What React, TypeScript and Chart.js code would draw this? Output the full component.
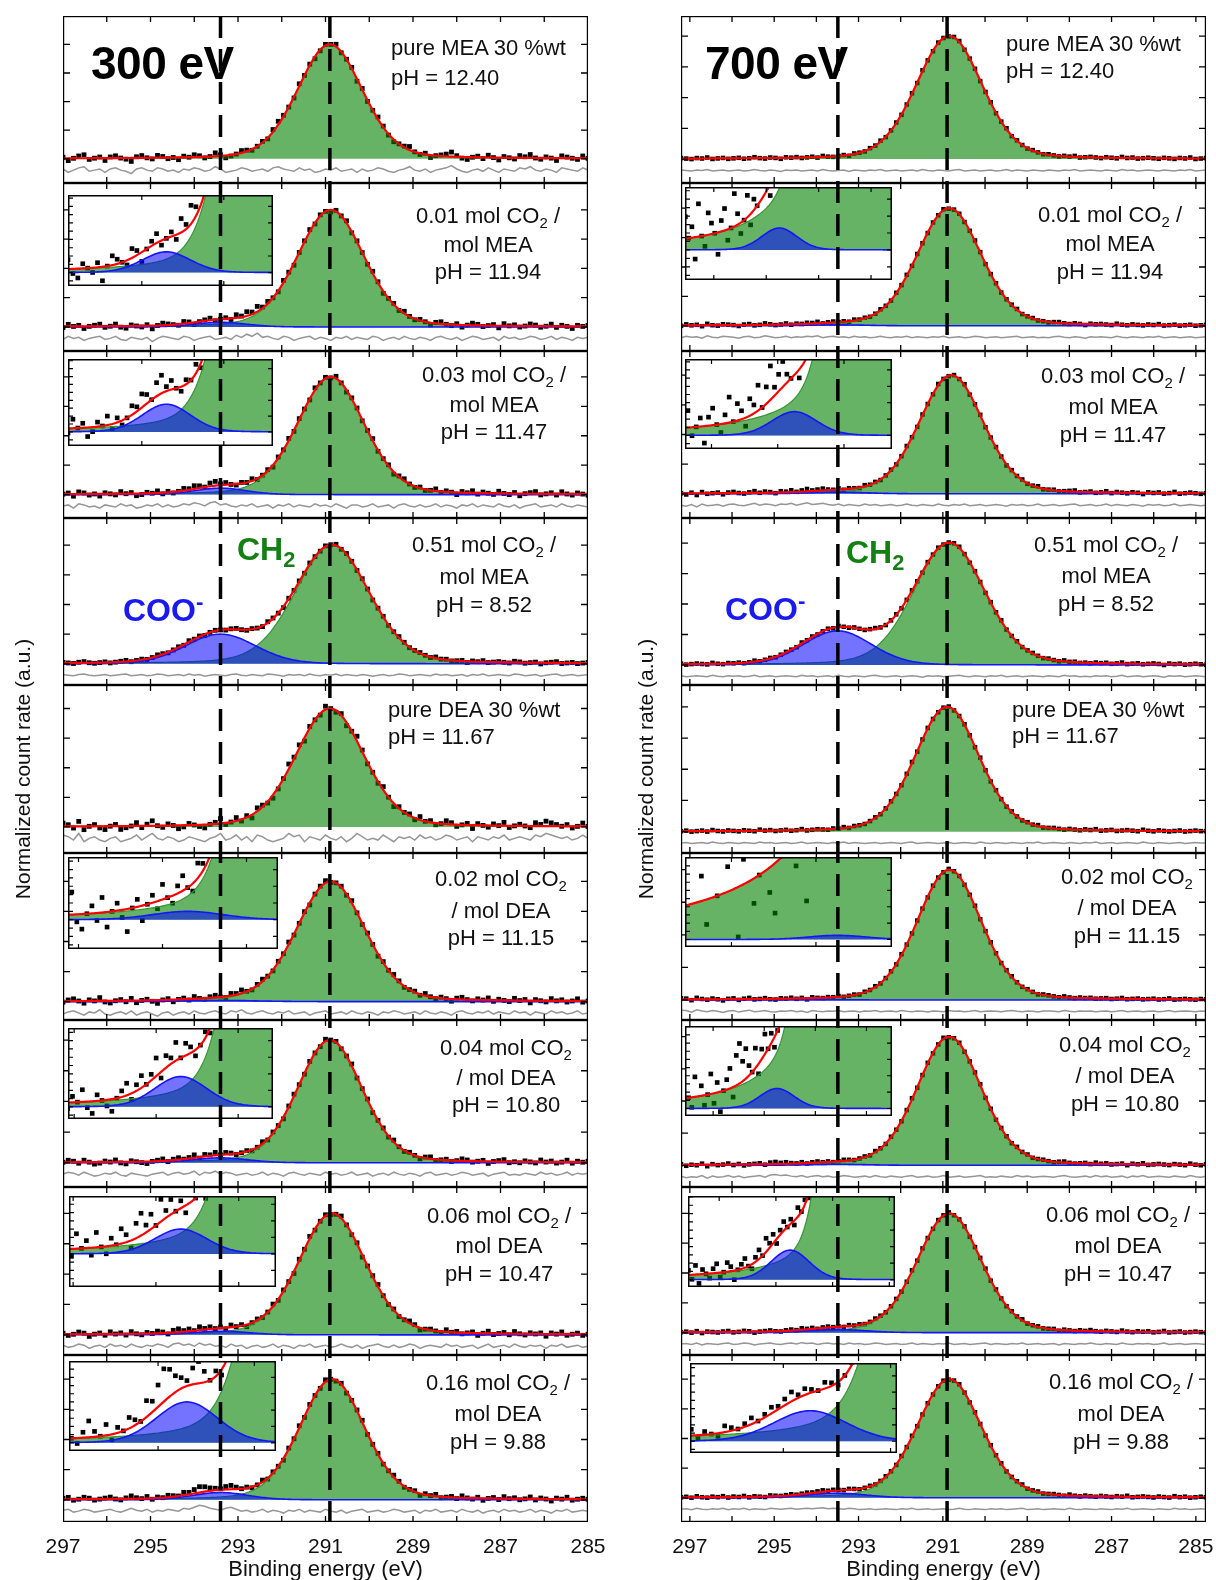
import React, { useEffect, useRef } from "react";
import { Chart, registerables } from "chart.js";

Chart.register(...registerables);

const FONT = "'Liberation Sans', Arial, Helvetica, sans-serif";

/* ---------------- measurement grid, axes, labels ---------------- */
const energyCount = 101;
const curveCount = 301;
const energyRange300 = [285, 297];
const energyRange700 = [284.76, 297.21];
const xTickLabels = [297, 295, 293, 291, 289, 287, 285];
const yTickValues = [0, 0.25, 0.5, 0.75, 1, 1.25];
const guideLines300 = [293.4, 290.9];
const guideLines700 = [293.49, 290.9];
const xAxisTitle = "Binding energy (eV)";
const yAxisTitle = "Normalized count rate (a.u.)";
const photonEnergy = ["300 eV", "700 eV"];
const ch2Label = "CH_2";
const cooLabel = "COO^-";
const ch2Eta = 0.2;
const cooEta = 0.1;

/* ---------------- 300 eV column ---------------- */
const sample300 = [
  ["pure MEA 30 %wt", "pH = 12.40"],
  ["0.01 mol CO_2 /", "mol MEA", "pH = 11.94"],
  ["0.03 mol CO_2 /", "mol MEA", "pH = 11.47"],
  ["0.51 mol CO_2 /", "mol MEA", "pH = 8.52"],
  ["pure DEA 30 %wt", "pH = 11.67"],
  ["0.02 mol CO_2", "/ mol DEA", "pH = 11.15"],
  ["0.04 mol CO_2", "/ mol DEA", "pH = 10.80"],
  ["0.06 mol CO_2 /", "mol DEA", "pH = 10.47"],
  ["0.16 mol CO_2 /", "mol DEA", "pH = 9.88"],
];
const ch2Center300 = [290.9, 290.88, 290.88, 290.85, 290.9, 290.88, 290.9, 290.85, 290.85];
const ch2Fwhm300 = [1.75, 1.8, 1.8, 2.0, 1.85, 1.85, 1.75, 1.8, 1.75];
const cooCenter300 = [293.4, 293.4, 293.4, 293.4, 293.4, 293.4, 293.4, 293.4, 293.4];
const cooAmp300 = [0, 0.04, 0.055, 0.25, 0, 0.01, 0.04, 0.03, 0.06];
const cooFwhm300 = [1.5, 1.4, 1.4, 1.9, 1.5, 2.0, 1.5, 1.5, 1.5];
const noiseUnit300 = [0.01, 0.009, 0.009, 0.005, 0.014, 0.009, 0.008, 0.009, 0.008];

const noise300MEApure = [1,-2,0,2,3,-1,0,1,-2,1, 2,0,-1,-3,1,2,0,-1,2,1, -1,0,-2,1,0,2,1,-1,0,3, 1,-2,-1,0,2,1,-1,0,1,-1, 2,3,1,0,-1,2,0,1,-2,-1, 1,0,2,-1,0,1,-2,1,-1,0, 2,1,-1,-2,0,1,3,0,-1,1, -2,0,1,2,4,1,-1,-2,0,1, -1,2,0,-2,1,0,-1,2,1,3, 0,-1,1,0,-2,2,1,0,-1,2, 0];
const noise300MEA001 = [-1,2,0,1,-2,0,1,2,-1,0, 2,-1,-2,1,0,-1,1,-3,0,2, 1,0,-1,2,1,-2,0,1,2,-1, 0,1,-1,3,1,4,2,5,1,2, 0,-1,2,1,-2,0,1,2,-1,1, 0,-2,1,0,2,-1,1,0,-1,2, 1,-2,0,1,-1,2,0,-1,1,0, -2,1,2,0,-1,1,-2,0,2,1, -1,0,1,-2,2,0,1,-1,0,2, 1,-1,0,2,-1,1,0,-2,1,0, 1];
const noise300MEA003 = [0,1,-2,2,1,-1,0,-2,1,0, -1,2,0,1,-2,-1,1,0,2,-1, 1,-1,0,2,1,3,2,0,3,4, 1,2,0,-1,1,0,2,-1,0,1, -2,1,0,2,-1,1,0,-1,2,0, 1,-1,2,0,-2,1,1,-1,0,2, -1,0,1,-2,1,2,0,-1,1,-1, 0,2,-1,1,0,-2,1,0,2,-1, 1,0,-1,2,0,-1,1,-2,0,1, 2,-1,0,1,-1,2,0,-1,1,0, -1];
const noise300MEA051 = [1,0,-1,1,2,0,-1,0,1,-1, 0,1,2,-1,0,1,-1,0,2,1, -1,0,1,-1,2,0,1,-2,0,1, 0,-1,1,2,0,-1,1,0,-1,2, 1,0,-2,1,0,1,-1,2,0,-1, 1,0,2,-1,1,0,-1,1,0,-2, 0,1,-1,0,2,1,-1,0,1,0, -1,2,0,1,-1,0,1,-2,1,0, 2,-1,0,1,0,-1,2,1,-1,0, 1,-2,0,1,2,-1,0,1,-1,0, 1];
const noise300DEApure = [2,1,-1,3,-2,0,1,-1,-2,0, 1,-2,-1,0,2,-1,1,3,0,-1, 1,0,-2,-1,1,0,-1,-2,0,1, 3,-1,0,2,-1,1,-2,2,1,-1, -2,-1,0,3,1,2,-2,1,0,-1, 2,0,-1,1,-2,0,3,1,-1,0, -1,2,0,-2,1,0,1,-1,2,0, 1,-1,0,2,1,-1,0,1,-2,1, 0,-1,1,0,2,-1,0,1,0,-1, 2,1,3,2,1,0,1,-1,0,2, 0];
const noise300DEA002 = [-1,1,2,0,-2,1,0,3,-1,-2, 0,1,-1,2,-2,0,1,-1,-3,0, 1,-2,0,1,-1,2,0,-1,1,2, 0,-1,2,1,3,0,-1,1,2,0, -1,1,0,2,-1,0,1,-2,0,1, 2,-1,0,1,-1,2,0,-1,1,0, -2,1,0,2,1,-1,0,1,-1,2, 0,-1,1,0,-2,1,2,0,-1,1, 0,2,-1,1,0,-1,2,0,1,-2, 1,0,-1,2,0,1,-1,0,2,-1, 0];
const noise300DEA004 = [0,2,1,-1,2,0,-2,-1,1,0, 2,-1,-2,1,0,-1,-2,0,1,2, -1,1,2,0,1,3,-1,2,1,3, 0,2,1,-1,0,1,-1,0,2,-1, 1,0,-2,1,2,0,-1,1,0,-1, 2,0,1,-1,0,2,-1,0,1,-2, 0,1,-1,2,0,-1,1,0,-2,1, 2,-1,0,1,-1,0,2,1,-1,0, 1,-2,0,1,2,-1,0,-1,1,0, -1,2,0,1,-1,0,2,-1,1,0, 1];
const noise300DEA006 = [1,-1,0,2,1,-2,0,1,-1,2, 0,1,-1,2,0,-1,1,0,2,1, -1,2,3,1,2,0,3,1,2,0, 1,-1,2,0,1,-2,0,1,-1,0, 2,-1,1,0,-2,1,0,2,-1,0, 1,-1,0,2,0,-1,1,-2,0,1, 2,0,-1,1,-1,0,2,1,-2,0, 1,0,-1,2,0,1,-1,0,1,-2, 0,2,-1,0,1,-1,2,0,-1,1, 0,1,-2,1,0,2,-1,0,1,-1, 0];
const noise300DEA016 = [1,2,-1,0,2,1,-1,0,1,2, 0,-1,1,3,1,0,2,-1,1,0, 2,1,0,3,2,4,6,5,3,2, 1,3,4,2,0,1,-1,0,2,-1, 1,0,-2,1,0,2,-1,1,0,-1, 2,0,-1,1,-2,0,1,2,-1,0, 1,-1,0,2,1,-1,0,1,-2,1, 0,2,-1,0,1,-1,2,0,-1,1, -2,0,1,-1,2,0,1,-1,0,2, -1,1,0,-2,1,0,2,-1,0,1, 0];

const insetPanels300 = [1, 2, 5, 6, 7, 8];
const insetEnergyRange300 = [[295.8, 290.8], [295.8, 290.8], [296.25, 291.25], [296.15, 291.15], [296.1, 291.1], [295.85, 291.55]];
const insetIntensityRange300 = [[-0.026, 0.15], [-0.028, 0.145], [-0.035, 0.075], [-0.016, 0.104], [-0.04, 0.07], [-0.012, 0.12]];

/* ---------------- 700 eV column ---------------- */
const sample700 = sample300;
const ch2Center700 = [290.85, 290.85, 290.8, 290.85, 290.9, 290.85, 290.85, 290.85, 290.85];
const ch2Fwhm700 = [1.85, 1.8, 1.8, 2.0, 1.8, 1.8, 1.8, 1.8, 1.8];
const cooCenter700 = [293.5, 293.5, 293.5, 293.5, 293.5, 293.5, 293.5, 293.5, 293.5];
const cooAmp700 = [0, 0.008, 0.014, 0.28, 0, 0.0005, 0.008, 0.026, 0.039];
const cooFwhm700 = [1.5, 1.6, 1.6, 1.9, 1.5, 1.6, 1.6, 1.6, 1.6];
const noiseUnit700 = [0.004, 0.004, 0.005, 0.004, 0.004, 0.003, 0.004, 0.004, 0.004];

const noise700MEApure = [1,0,-1,1,0,2,-1,0,1,-1, 0,1,-1,0,2,0,-1,1,0,-2, 1,0,1,-1,0,1,-1,2,0,-1, 0,1,-2,1,0,-1,1,0,2,-1, 0,1,-1,0,1,-1,2,0,-1,1, 0,-1,1,2,-1,0,1,-1,0,1, -1,0,2,-1,1,0,-1,1,0,-1, 1,0,-1,1,0,2,-1,0,1,0, -1,1,0,-1,2,0,1,-1,0,1, 0,-1,1,0,-1,1,0,2,-1,0, 1];
const noise700MEA001 = [-1,2,0,1,-2,3,0,-1,2,1, 0,-2,1,2,-1,0,3,1,-1,0, 2,-1,1,0,2,1,3,-1,1,2, 0,1,-1,2,0,1,-1,0,2,0, -1,1,0,2,-1,1,0,-1,1,0, 2,-1,0,1,-1,0,2,1,-1,0, 1,-1,0,1,2,-1,0,1,-1,0, -1,1,2,0,-1,1,0,-2,1,0, 1,0,-1,2,0,-1,1,0,-1,1, 0,2,-1,0,1,-1,0,1,-1,0, 1];
const noise700MEA003 = [0,-2,1,-3,2,-1,0,1,-2,1, 2,0,-1,1,3,0,2,1,-1,2, 1,3,0,2,4,1,2,3,1,0, 2,-1,1,0,-1,2,0,1,-1,0, 1,-1,0,2,0,-1,1,0,-1,2, 0,-1,1,0,2,-1,0,1,-1,0, 1,0,-2,1,0,1,-1,0,2,-1, 0,1,-1,0,1,2,-1,0,1,-1, 0,2,-1,1,0,-1,1,0,-2,1, 0,1,-1,0,2,-1,0,1,0,-1, 0];
const noise700MEA051 = [1,-1,0,1,0,-1,2,0,-1,1, 0,1,-1,0,2,-1,0,1,-1,0, 1,0,-1,2,0,1,-1,0,1,-1, 2,0,-1,1,0,-1,1,2,0,-1, 0,1,-1,0,1,0,-2,1,0,1, -1,0,1,2,0,-1,1,0,-1,1, 0,2,-1,0,1,-1,0,1,0,-1, 1,0,-1,2,0,1,-1,0,-1,1, 0,1,-1,0,2,-1,0,1,-1,0, 1,0,-2,1,0,1,-1,0,1,0, -1];
const noise700DEApure = [0,1,-1,0,1,-1,2,0,-1,1, 0,-1,1,0,-1,2,0,1,-1,0, 1,-1,0,2,-1,0,1,0,-1,1, 0,2,-1,1,0,-1,0,1,-1,0, 1,0,-1,1,2,-1,0,1,0,-1, 0,1,-1,0,1,0,-1,2,0,-1, 1,0,-1,1,0,-1,1,0,2,-1, 0,1,0,-1,1,0,-1,1,0,2, -1,0,1,-1,0,1,0,-1,2,0, -1,1,0,-1,0,1,-1,0,1,0, 0];
const noise700DEA002 = [3,2,-2,4,1,-1,2,0,-3,1, 2,-2,1,3,-1,0,2,-1,-2,1, 0,2,-1,1,-3,2,0,-1,1,0, 2,-1,0,1,-2,1,0,2,-1,0, 1,-1,2,0,-1,1,0,-2,1,0, -1,2,0,1,-1,0,2,-1,0,1, 0,-1,1,2,0,-1,1,0,-2,1, 1,0,-1,2,0,-1,1,0,1,-1, 0,1,-1,0,2,-1,0,1,-1,0, 1,-1,0,2,-1,0,1,0,-1,1, 0];
const noise700DEA004 = [1,-2,0,-1,2,-3,1,-1,0,2, -1,1,-2,0,1,2,-1,3,4,2, 3,1,0,2,-1,1,2,0,1,-1, 0,2,1,-1,0,1,-1,2,0,-1, 1,0,-1,1,2,-1,0,1,-1,0, 2,-1,0,1,-1,0,1,2,-1,0, -1,1,0,-1,2,0,1,-1,0,1, 0,-1,1,2,0,-1,0,1,-1,2, 0,1,-1,0,1,-2,1,0,2,-1, 0,1,0,-1,1,0,-1,2,0,-1, 1];
const noise700DEA006 = [0,1,-1,2,-2,1,0,-1,1,2, -1,0,2,1,-2,0,1,2,0,-1, 1,2,0,3,1,2,-1,1,2,0, 1,-1,2,0,1,-1,0,2,1,-1, 0,1,-1,0,2,-1,1,0,-1,1, 0,2,-1,0,1,-1,0,1,2,-1, 1,0,-1,1,0,2,-1,0,1,-1, 0,1,-2,1,0,-1,1,0,2,0, -1,1,0,-1,2,0,-1,1,0,1, -1,0,2,-1,0,1,-1,0,1,0, -1];
const noise700DEA016 = [0,1,-1,2,0,-1,1,0,2,-1, 1,0,2,-1,1,0,-1,2,1,0, 1,2,0,1,2,1,2,3,1,2, 1,0,2,1,-1,0,1,-1,0,1, 0,-1,1,0,2,-1,0,1,-1,0, 1,-1,0,2,0,-1,1,0,-1,1, 0,1,-1,0,1,2,-1,0,1,-1, 0,1,0,-1,2,0,-1,1,0,-1, 1,0,-1,1,0,2,-1,0,1,0, -1,1,0,-1,2,0,1,-1,0,1, 0];

const insetPanels700 = [1, 2, 5, 6, 7, 8];
const insetEnergyRange700 = [[297.1, 289.2], [296.8, 290.55], [297.1, 292.2], [297.1, 289.0], [297.1, 289.8], [295.74, 291.88]];
const insetIntensityRange700 = [[-0.011, 0.023], [-0.008, 0.045], [-0.0009, 0.0099], [-0.003, 0.033], [-0.0064, 0.0736], [-0.015, 0.1]];

/* ---------------- layout (page pixels) ---------------- */
const plotTop = 16;
const plotBottom = 1522;
const plotW = 525;
const nPanels = 9;
const xAxisH = 61;
const overlayRightPad = 24;
const residualGap = 0.068;
const panelTops = Array.from({ length: nPanels + 1 }, (_, i) => Math.round(plotTop + (i * (plotBottom - plotTop)) / nPanels));

const layout300 = {
  x0: 63,
  yTitleW: 51,
  baseFrac: [0.855, 0.857, 0.86, 0.873, 0.845, 0.89, 0.855, 0.88, 0.867],
  peakFrac: [0.17, 0.16, 0.155, 0.163, 0.14, 0.17, 0.12, 0.157, 0.145],
  labelX: [391, 488, 494, 484, 388, 501, 506, 499, 498],
  labelY: [[48, 77.5], [216, 245, 272], [375, 405, 432], [545, 577, 605], [710, 737], [879, 911, 938], [1048, 1078, 1105], [1216, 1246, 1274], [1383, 1414, 1442]],
  insetBox: [[68, 195, 205, 91], [68, 359, 205, 87], [68, 857, 210, 92], [68, 1028, 205, 91], [69, 1196, 207, 91], [69, 1361, 207, 90]],
  titlePos: [91, 63],
  ch2Pos: [237, 549],
  cooPos: [123, 610],
};
const layout700 = {
  x0: 681,
  yTitleW: 46,
  baseFrac: [0.857, 0.85, 0.855, 0.88, 0.873, 0.88, 0.87, 0.867, 0.855],
  peakFrac: [0.12, 0.15, 0.145, 0.15, 0.13, 0.1, 0.1, 0.157, 0.145],
  labelX: [1006, 1110, 1113, 1106, 1012, 1127, 1125, 1118, 1121],
  labelY: [[44, 71], [215, 244, 272], [376, 407, 435], [545, 576, 604], [710, 736], [877, 908, 936], [1045, 1076, 1104], [1215, 1246, 1274], [1382, 1414, 1442]],
  insetBox: [[685, 187, 207, 93], [685, 359, 207, 90], [685, 857, 207, 90], [685, 1026, 207, 90], [688, 1196, 207, 91], [690, 1363, 207, 90]],
  titlePos: [705, 63],
  ch2Pos: [846, 552],
  cooPos: [725, 609],
};
const labelAlign = ["left", "center", "center", "center", "left", "center", "center", "center", "center"];

const columns = [
  {
    key: "c300", title: photonEnergy[0], layout: layout300, labels: sample300,
    eRange: energyRange300, guides: guideLines300,
    ch2Center: ch2Center300, ch2Fwhm: ch2Fwhm300, cooCenter: cooCenter300, cooAmp: cooAmp300, cooFwhm: cooFwhm300,
    noiseUnit: noiseUnit300,
    noise: [noise300MEApure, noise300MEA001, noise300MEA003, noise300MEA051, noise300DEApure, noise300DEA002, noise300DEA004, noise300DEA006, noise300DEA016],
    insetPanels: insetPanels300, insetE: insetEnergyRange300, insetI: insetIntensityRange300,
  },
  {
    key: "c700", title: photonEnergy[1], layout: layout700, labels: sample700,
    eRange: energyRange700, guides: guideLines700,
    ch2Center: ch2Center700, ch2Fwhm: ch2Fwhm700, cooCenter: cooCenter700, cooAmp: cooAmp700, cooFwhm: cooFwhm700,
    noiseUnit: noiseUnit700,
    noise: [noise700MEApure, noise700MEA001, noise700MEA003, noise700MEA051, noise700DEApure, noise700DEA002, noise700DEA004, noise700DEA006, noise700DEA016],
    insetPanels: insetPanels700, insetE: insetEnergyRange700, insetI: insetIntensityRange700,
  },
];

/* ---------------- model ---------------- */
function pseudoVoigt(e: number, c: number, f: number, eta: number) {
  const t = (e - c) / f;
  return (1 - eta) * Math.exp(-4 * Math.LN2 * t * t) + eta / (1 + 4 * t * t);
}
function grid(lo: number, hi: number, n: number) {
  return Array.from({ length: n }, (_, i) => +(hi - (i * (hi - lo)) / (n - 1)).toFixed(4));
}

function buildSpectrum(col: any, i: number) {
  const L = col.layout;
  const [lo, hi] = col.eRange;
  const dataE = grid(lo, hi, energyCount);
  const curveE = grid(lo, hi, curveCount);
  const ch2 = (e: number) => pseudoVoigt(e, col.ch2Center[i], col.ch2Fwhm[i], ch2Eta);
  const coo = (e: number) => col.cooAmp[i] * pseudoVoigt(e, col.cooCenter[i], col.cooFwhm[i], cooEta);
  const fit = (e: number) => ch2(e) + coo(e);
  const noise = col.noise[i];
  const unit = col.noiseUnit[i];
  const gap = residualGap / (L.baseFrac[i] - L.peakFrac[i]);
  return {
    green: curveE.map((e) => ({ x: e, y: ch2(e) })),
    blue: col.cooAmp[i] > 0 ? curveE.map((e) => ({ x: e, y: coo(e) })) : null,
    fit: curveE.map((e) => ({ x: e, y: fit(e) })),
    points: dataE.map((e, k) => ({ x: e, y: fit(e) + (noise[k] ?? 0) * unit })),
    resid: dataE.map((e, k) => ({ x: e, y: -gap + (noise[k] ?? 0) * unit })),
  };
}

function spectrumDatasets(s: any, withResidual: boolean, pointR: number) {
  const ds: any[] = [
    { label: "measured", data: s.points, showLine: false, pointStyle: "rect", pointRadius: pointR, pointHoverRadius: 0,
      backgroundColor: "#000", borderColor: "#000", pointBorderWidth: 0, order: 5 },
  ];
  if (withResidual)
    ds.push({ label: "residual", data: s.resid, pointRadius: 0, borderColor: "rgb(150,150,150)", borderWidth: 1.5, fill: false, order: 4 });
  ds.push({ label: "CH2", data: s.green, pointRadius: 0, borderColor: "rgb(50,150,50)", borderWidth: 1.2,
    backgroundColor: "rgba(0,128,0,0.6)", fill: { value: 0 }, order: 3 });
  if (s.blue)
    ds.push({ label: "COO-", data: s.blue, pointRadius: 0, borderColor: "rgb(20,20,255)", borderWidth: 1.6,
      backgroundColor: "rgba(0,0,255,0.55)", fill: { value: 0 }, order: 2 });
  ds.push({ label: "fit", data: s.fit, pointRadius: 0, borderColor: "rgb(255,0,0)", borderWidth: 2.2, fill: false, order: 1 });
  return ds;
}

function baseOptions(xMin: number, xMax: number, yMin: number, yMax: number) {
  return {
    responsive: false,
    animation: false,
    devicePixelRatio: 1,
    events: [],
    layout: { padding: 0, autoPadding: false },
    plugins: { legend: { display: false }, tooltip: { enabled: false } },
    scales: {
      x: { type: "linear", min: xMin, max: xMax, reverse: true, display: false },
      y: { type: "linear", min: yMin, max: yMax, display: false },
    },
  };
}

const panelFrame = {
  id: "panelFrame",
  afterDraw(chart: any) {
    const { ctx, chartArea: a } = chart;
    const xs = chart.scales.x;
    const ys = chart.scales.y;
    ctx.save();
    ctx.strokeStyle = "#000";
    ctx.lineWidth = 1.3;
    ctx.beginPath();
    for (let e = Math.ceil(xs.min); e <= xs.max; e += 1) {
      const px = xs.getPixelForValue(e);
      ctx.moveTo(px, a.bottom);
      ctx.lineTo(px, a.bottom - 6);
      ctx.moveTo(px, a.top);
      ctx.lineTo(px, a.top + 6);
    }
    yTickValues.filter((v) => v < ys.max).forEach((v) => {
      const py = ys.getPixelForValue(v);
      ctx.moveTo(a.left, py);
      ctx.lineTo(a.left + 7, py);
      ctx.moveTo(a.right, py);
      ctx.lineTo(a.right - 7, py);
    });
    ctx.stroke();
    ctx.lineWidth = 2.4;
    ctx.strokeRect(a.left, a.top, a.right - a.left, a.bottom - a.top);
    ctx.restore();
  },
};

const insetFrame = {
  id: "insetFrame",
  beforeDraw(chart: any) {
    const { ctx, chartArea: a } = chart;
    ctx.save();
    ctx.fillStyle = "#fff";
    ctx.fillRect(a.left, a.top, a.right - a.left, a.bottom - a.top);
    ctx.restore();
  },
  afterDraw(chart: any) {
    const { ctx, chartArea: a } = chart;
    const xs = chart.scales.x;
    const ys = chart.scales.y;
    ctx.save();
    ctx.strokeStyle = "#000";
    ctx.lineWidth = 1.2;
    ctx.beginPath();
    for (let e = Math.ceil(xs.min); e <= xs.max; e += 1) {
      if (e % 2 !== 0) continue;
      const px = xs.getPixelForValue(e);
      ctx.moveTo(px, a.bottom);
      ctx.lineTo(px, a.bottom - 5);
      ctx.moveTo(px, a.top);
      ctx.lineTo(px, a.top + 5);
    }
    const range = ys.max - ys.min;
    const stepL = range / 11;
    for (let v = -Math.floor(-ys.min / stepL) * stepL; v < ys.max; v += stepL) {
      const py = ys.getPixelForValue(v);
      ctx.moveTo(a.left, py);
      ctx.lineTo(a.left + 5, py);
    }
    const stepR = range / 5.5;
    for (let v = -Math.floor(-ys.min / stepR) * stepR; v < ys.max; v += stepR) {
      const py = ys.getPixelForValue(v);
      ctx.moveTo(a.right, py);
      ctx.lineTo(a.right - 5, py);
    }
    ctx.stroke();
    ctx.lineWidth = 3;
    ctx.strokeRect(a.left, a.top, a.right - a.left, a.bottom - a.top);
    ctx.restore();
  },
};

function panelConfig(col: any, i: number) {
  const L = col.layout;
  const span = 1 / (L.baseFrac[i] - L.peakFrac[i]);
  const yMax = L.baseFrac[i] * span;
  const yMin = yMax - span;
  const s = buildSpectrum(col, i);
  return {
    type: "line",
    data: { datasets: spectrumDatasets(s, true, col.key === "c300" ? 3.4 : 3.2) },
    options: baseOptions(col.eRange[0], col.eRange[1], yMin, yMax),
    plugins: [panelFrame],
  };
}

function insetConfig(col: any, j: number) {
  const i = col.insetPanels[j];
  const [eL, eR] = col.insetE[j];
  const [iMin, iMax] = col.insetI[j];
  const s = buildSpectrum(col, i);
  return {
    type: "line",
    data: { datasets: spectrumDatasets(s, false, 3.3) },
    options: baseOptions(eR, eL, iMin, iMax),
    plugins: [insetFrame],
  };
}

function overlayConfig(col: any) {
  const L = col.layout;
  return {
    type: "line",
    data: {
      datasets: col.guides.map((v: number) => ({
        label: `${v} eV`,
        data: [{ x: v, y: 1 }, { x: v, y: 0 }],
        borderColor: "#000",
        borderWidth: 3.5,
        borderDash: [22, 11],
        pointRadius: 0,
        fill: false,
      })),
    },
    options: {
      responsive: false,
      animation: false,
      devicePixelRatio: 1,
      events: [],
      layout: { padding: { left: 0, top: 0, bottom: 0, right: overlayRightPad }, autoPadding: false },
      plugins: { legend: { display: false }, tooltip: { enabled: false } },
      scales: {
        x: {
          type: "linear", min: col.eRange[0], max: col.eRange[1], reverse: true, position: "bottom",
          grid: { display: false }, border: { display: false },
          afterBuildTicks: (sc: any) => { sc.ticks = xTickLabels.map((v) => ({ value: v })); },
          ticks: { color: "#111", font: { family: FONT, size: 21 }, padding: 5, maxRotation: 0, autoSkip: false },
          title: { display: true, text: xAxisTitle, color: "#111", font: { family: FONT, size: 22 }, padding: { top: 0, bottom: 0 } },
          afterFit: (sc: any) => { sc.height = xAxisH; },
        },
        y: {
          type: "linear", min: 0, max: 1, position: "left",
          grid: { display: false }, border: { display: false },
          ticks: { display: false },
          title: { display: true, text: yAxisTitle, color: "#111", font: { family: FONT, size: 21 }, padding: { top: 0, bottom: 0 } },
          afterFit: (sc: any) => { sc.width = L.yTitleW; },
        },
      },
    },
  };
}

/* ---------------- components ---------------- */
function ChartCanvas({ box, z, make }: { box: number[]; z: number; make: () => any }) {
  const ref = useRef<HTMLCanvasElement | null>(null);
  useEffect(() => {
    if (!ref.current) return;
    const chart = new Chart(ref.current, make());
    return () => chart.destroy();
  }, []);
  const [left, top, width, height] = box;
  return (
    <canvas
      ref={ref}
      width={width}
      height={height}
      style={{ position: "absolute", left, top, width, height, zIndex: z, display: "block", pointerEvents: "none" }}
    />
  );
}

function Rich({ text }: { text: string }) {
  const parts = text.split(/(_2|\^-)/);
  return (
    <>
      {parts.map((p, k) =>
        p === "_2" ? (
          <span key={k} style={{ fontSize: "0.68em", position: "relative", top: "0.32em" }}>2</span>
        ) : p === "^-" ? (
          <span key={k} style={{ fontSize: "0.7em", position: "relative", top: "-0.55em" }}>-</span>
        ) : (
          <React.Fragment key={k}>{p}</React.Fragment>
        )
      )}
    </>
  );
}

function Column({ col }: { col: any }) {
  const L = col.layout;
  const els: any[] = [];
  for (let i = 0; i < nPanels; i++) {
    const top = panelTops[i];
    const h = panelTops[i + 1] - top;
    els.push(<ChartCanvas key={`p${i}`} box={[L.x0, top, plotW, h]} z={1} make={() => panelConfig(col, i)} />);
  }
  col.insetPanels.forEach((_: number, j: number) => {
    els.push(<ChartCanvas key={`i${j}`} box={L.insetBox[j]} z={2} make={() => insetConfig(col, j)} />);
  });
  els.push(
    <ChartCanvas
      key="ov"
      box={[L.x0 - L.yTitleW, plotTop, L.yTitleW + plotW + overlayRightPad, plotBottom - plotTop + xAxisH]}
      z={3}
      make={() => overlayConfig(col)}
    />
  );
  col.labels.forEach((lines: string[], i: number) => {
    const align = labelAlign[i];
    lines.forEach((t, k) => {
      els.push(
        <div
          key={`t${i}_${k}`}
          style={{
            position: "absolute",
            left: align === "left" ? L.labelX[i] : L.labelX[i] - 150,
            top: L.labelY[i][k] - 14,
            width: align === "left" ? 260 : 300,
            height: 28,
            lineHeight: "28px",
            fontSize: 22,
            textAlign: align as any,
            color: "#111",
            whiteSpace: "nowrap",
            zIndex: 5,
          }}
        >
          <Rich text={t} />
        </div>
      );
    });
  });
  els.push(
    <div key="title" style={{ position: "absolute", left: L.titlePos[0], top: L.titlePos[1] - 26, height: 52, lineHeight: "52px",
      fontSize: 46, fontWeight: 700, letterSpacing: -0.5, color: "#000", whiteSpace: "nowrap", zIndex: 5 }}>
      {col.title}
    </div>
  );
  els.push(
    <div key="ch2" style={{ position: "absolute", left: L.ch2Pos[0], top: L.ch2Pos[1] - 18, height: 36, lineHeight: "36px",
      fontSize: 32, fontWeight: 700, color: "rgb(20,128,20)", whiteSpace: "nowrap", zIndex: 5 }}>
      <Rich text={ch2Label} />
    </div>
  );
  els.push(
    <div key="coo" style={{ position: "absolute", left: L.cooPos[0], top: L.cooPos[1] - 18, height: 36, lineHeight: "36px",
      fontSize: 32, fontWeight: 700, color: "rgb(25,25,240)", whiteSpace: "nowrap", zIndex: 5 }}>
      <Rich text={cooLabel} />
    </div>
  );
  return <>{els}</>;
}

export default function App() {
  return (
    <div
      style={{
        position: "absolute",
        left: 0,
        top: 0,
        width: 1216,
        height: 1580,
        overflow: "hidden",
        background: "#fff",
        fontFamily: FONT,
      }}
    >
      {columns.map((col) => (
        <Column key={col.key} col={col} />
      ))}
    </div>
  );
}
